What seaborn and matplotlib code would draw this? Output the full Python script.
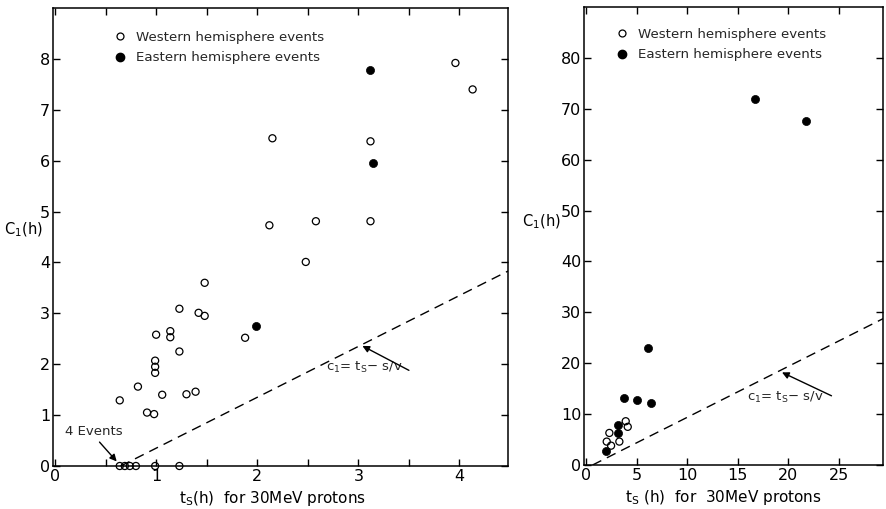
import numpy as np
import pandas as pd
import matplotlib
matplotlib.use("Agg")
import matplotlib.pyplot as plt
from matplotlib.lines import Line2D
from matplotlib.ticker import MultipleLocator
import seaborn as sns

# ---- data: onset delay c1 versus time to maximum ts (30 MeV protons) ----
# short time-scale panel
west_ts_a = [3.96, 4.13, 3.12, 3.12, 2.58, 2.48, 2.15, 2.12, 1.48, 1.42, 1.48,
             1.88, 1.23, 1.00, 1.14, 1.14, 1.23, 0.99, 0.99, 0.99, 0.82, 0.64,
             1.06, 1.30, 1.39, 0.91, 0.98,
             0.64, 0.69, 0.74, 0.80, 0.99, 1.23]
west_c1_a = [7.92, 7.40, 6.38, 4.81, 4.81, 4.01, 6.44, 4.73, 3.60, 3.01, 2.95,
             2.52, 3.09, 2.58, 2.65, 2.53, 2.25, 2.07, 1.95, 1.83, 1.56, 1.29,
             1.40, 1.41, 1.46, 1.05, 1.02,
             0.0, 0.0, 0.0, 0.0, 0.0, 0.0]
east_ts_a = [3.12, 3.14, 1.99]
east_c1_a = [7.78, 5.95, 2.76]

# long time-scale panel
west_ts_b = [2.31, 2.05, 2.48, 3.30, 3.93, 4.13]
west_c1_b = [6.3, 4.6, 3.8, 4.6, 8.6, 7.5]
east_ts_b = [1.98, 3.2, 3.2, 3.79, 5.02, 6.44, 6.11, 16.73, 21.78]
east_c1_b = [2.75, 7.8, 6.2, 13.1, 12.8, 12.2, 22.9, 71.9, 67.5]

# propagation time s/v for 30 MeV protons (h)
s_over_v = 0.65

xticks_a = [0, 1, 2, 3, 4]
yticks_a = [0, 1, 2, 3, 4, 5, 6, 7, 8]
xticks_b = [0, 5, 10, 15, 20, 25]
yticks_b = [0, 10, 20, 30, 40, 50, 60, 70, 80]

legend_labels = ["Western hemisphere events", "Eastern hemisphere events"]

sns.set_theme(style="ticks")
plt.rcParams["font.family"] = ["DejaVu Sans"]
plt.rcParams["mathtext.default"] = "regular"

fig = plt.figure(figsize=(8.86, 5.09), dpi=100)
ax1 = fig.add_axes([53 / 886, 43 / 509, 455 / 886, 458 / 509])
ax2 = fig.add_axes([584 / 886, 44 / 509, 299 / 886, 458 / 509])


def draw_panel(ax, wts, wc1, ets, ec1, xmax):
    west = pd.DataFrame({"ts": wts, "c1": wc1})
    east = pd.DataFrame({"ts": ets, "c1": ec1})
    sns.scatterplot(data=west, x="ts", y="c1", ax=ax, marker="o", s=26,
                    facecolor="none", edgecolor="black", linewidth=0.9,
                    clip_on=False, zorder=4, legend=False)
    sns.scatterplot(data=east, x="ts", y="c1", ax=ax, marker="o", s=34,
                    color="black", edgecolor="black", linewidth=0.5,
                    clip_on=False, zorder=4, legend=False)
    # c1 = ts - s/v
    line = pd.DataFrame({"ts": [s_over_v, xmax]})
    line["c1"] = line["ts"] - s_over_v
    sns.lineplot(data=line, x="ts", y="c1", ax=ax, color="black", lw=1.0,
                 dashes=False, zorder=3)
    ax.lines[-1].set_linestyle((0, (7, 4.5)))
    for sp in ax.spines.values():
        sp.set_visible(True)
        sp.set_linewidth(1.1)
        sp.set_color("black")
    ax.tick_params(which="both", direction="in", top=True, right=True,
                   length=5, width=1.0, color="black", labelsize=11.5,
                   labelcolor="black", pad=2)
    ax.set_xlabel("")
    ax.set_ylabel("")
    ax.grid(False)


draw_panel(ax1, west_ts_a, west_c1_a, east_ts_a, east_c1_a, 4.48)
ax1.set_xlim(-0.02, 4.48)
ax1.set_ylim(0, 9.0)
ax1.set_xticks(xticks_a)
ax1.set_yticks(yticks_a)
ax1.xaxis.set_minor_locator(MultipleLocator(0.5))

draw_panel(ax2, west_ts_b, west_c1_b, east_ts_b, east_c1_b, 29.4)
ax2.set_xlim(-0.2, 29.4)
ax2.set_ylim(0, 90)
ax2.set_xticks(xticks_b)
ax2.set_yticks(yticks_b)

ax1.set_xlabel("t$_S$(h)  for 30MeV protons", fontsize=11, color="black")
ax2.set_xlabel("t$_S$ (h)  for  30MeV protons", fontsize=11, color="black")
for ax, lx in ((ax1, 0.483), (ax2, 0.465)):
    ax.xaxis.set_label_coords(lx, -0.072, transform=ax.transAxes)
    ax.xaxis.label.set_va("center")
    ax.set_ylabel("C$_1$(h)", fontsize=10.5, rotation=0, color="black")
    ax.yaxis.label.set_ha("center")
    ax.yaxis.label.set_va("center")

ax1.yaxis.set_label_coords(-0.066, 0.515)
ax2.yaxis.set_label_coords(-0.144, 0.53)

# legends
handles = [
    Line2D([], [], ls="", marker="o", ms=5, mfc="none", mec="black", mew=0.9),
    Line2D([], [], ls="", marker="o", ms=6, mfc="black", mec="black"),
]
for ax, anchor in ((ax1, (0.136, 0.950)), (ax2, (0.110, 0.954))):
    ax.legend(handles, legend_labels, loc="upper left", bbox_to_anchor=anchor,
              frameon=False, fontsize=9.6, handlelength=0.8, handletextpad=0.75,
              borderpad=0, borderaxespad=0, labelspacing=0.55)

# line annotations
ax1.text(3.06, 1.93, "c$_1$= t$_S$− s/v", fontsize=9.5, ha="center", va="center")
ax1.annotate("", xy=(3.04, 2.36), xytext=(3.5, 1.88),
             arrowprops=dict(arrowstyle="-|>", color="black", lw=1.0,
                             mutation_scale=10, shrinkA=0, shrinkB=0))
ax1.text(0.38, 0.68, "4 Events", fontsize=9.5, ha="center", va="center")
ax1.annotate("", xy=(0.61, 0.09), xytext=(0.44, 0.47),
             arrowprops=dict(arrowstyle="-|>", color="black", lw=1.0,
                             mutation_scale=10, shrinkA=0, shrinkB=0))

ax2.text(19.7, 13.3, "c$_1$= t$_S$− s/v", fontsize=9.5, ha="center", va="center")
ax2.annotate("", xy=(19.4, 18.2), xytext=(24.3, 13.6),
             arrowprops=dict(arrowstyle="-|>", color="black", lw=1.0,
                             mutation_scale=10, shrinkA=0, shrinkB=0))

fig.savefig("out.png", dpi=100, facecolor="white")
